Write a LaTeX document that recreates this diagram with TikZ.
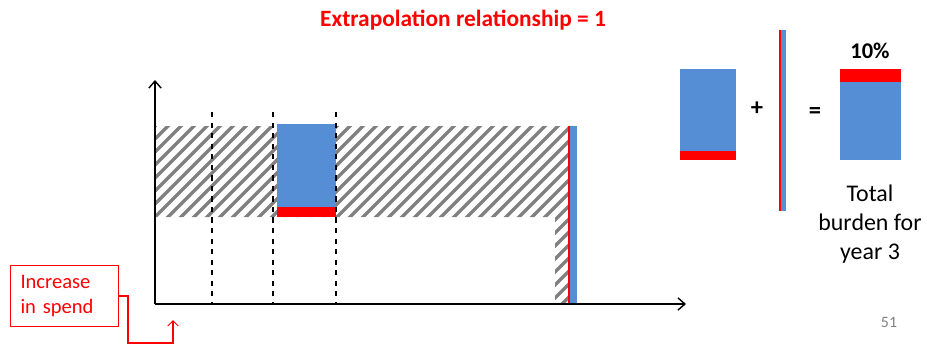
\documentclass[tikz,border=0pt]{standalone}
\usepackage{fontspec}
\setmainfont{Carlito}
\usetikzlibrary{arrows.meta}
\definecolor{barblue}{RGB}{85,142,213}
\definecolor{hatchgray}{RGB}{128,128,128}

\begin{document}
\begin{tikzpicture}[x=0.02cm,y=-0.02cm,
  blue/.style={fill=barblue,draw=none},
  loss/.style={fill=red,draw=none},
  axis/.style={line width=0.8pt,-{Straight Barb[length=4pt,width=7pt]}},
  yr/.style={dashed,line width=0.6pt},
  hatch/.style={hatchgray,line width=2pt},
  lbl/.style={font=\fontsize{13.6}{16.4}\selectfont,align=center},
  sym/.style={font=\bfseries\fontsize{14}{16}\selectfont}]
\useasboundingbox (0,0) rectangle (927,349);
% title
\node[font=\bfseries\fontsize{13.3}{16}\selectfont,text=red] (title) at (463,20) {Extrapolation relationship = 1};
% hatched area
\begin{scope}
  \clip (155,126) rectangle (568,217) (555,217) rectangle (568,304);
  \foreach \a in {-120,-107,...,640}
    \draw[hatch] (\a,310) -- ++(200,-200);
\end{scope}
% year 3 bar
\fill[blue] (277,124) rectangle (336,207);
\fill[loss] (277,207) rectangle (336,217);
% thin bar at the end
\fill[loss] (568,126) rectangle (570,304);
\fill[blue] (570,126) rectangle (577,304);
% axes
\coordinate (o) at (155,304);
\coordinate (ytop) at (155,80);
\coordinate (xend) at (686,304);
\draw[axis] (o) -- (ytop);
\draw[axis] (o) -- (xend);
\foreach \x in {212,273,336}
  \draw[yr] (\x,112) -- (\x,304);
% sum on the right
\fill[blue] (680,69) rectangle (736,151);
\fill[loss] (680,151) rectangle (736,160);
\node[sym] (plus) at (757,109) {+};
\fill[loss] (779,30) rectangle (781,211);
\fill[blue] (781,30) rectangle (786,211);
\node[sym] (eq) at (815,113) {=};
\fill[loss] (840,69) rectangle (901,82);
\fill[blue] (840,82) rectangle (901,160);
\node[sym,font=\bfseries\fontsize{12.8}{15}\selectfont] (pct) at (870,51) {10\%};
\node[lbl] (total) at (870,224) {Total\\burden for\\year 3};
% spend note
\node[draw=red,text=red,line width=0.6pt,anchor=north west,align=left,
  text width=1.76cm,inner xsep=0.2cm,minimum height=1.22cm,
  font=\fontsize{11.7}{14}\selectfont] (spend) at (10,265) {Increase\\in spend};
\coordinate (tip) at (173,320);
\draw[red,line width=0.6pt,-{Straight Barb[length=3pt,width=6pt]}]
  (spend.east) -| (128,343) -| (tip);
\node[text=gray,font=\fontsize{9}{11}\selectfont] (page) at (889,322) {51};
\end{tikzpicture}
\end{document}
